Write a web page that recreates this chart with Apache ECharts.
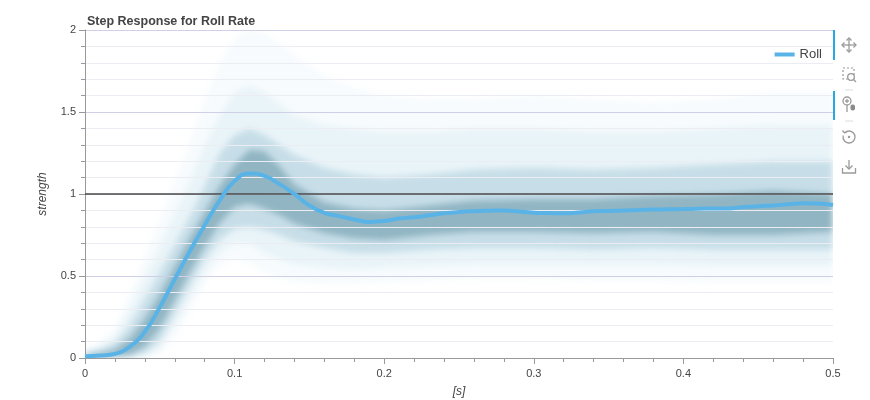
<!DOCTYPE html>
<html>
<head>
<meta charset="utf-8">
<script src="https://cdn.jsdelivr.net/npm/echarts@6/dist/echarts.min.js"></script>
<style>
  html, body { margin: 0; padding: 0; background: #fff; overflow: hidden; }
  #wrap { position: relative; width: 870px; height: 400px; }
  #bandsClip { position: absolute; left: 85px; top: 30px; width: 748px; height: 328px; overflow: hidden; }
  #bands { position: absolute; left: -85px; top: -30px; width: 870px; height: 400px; filter: blur(3px); }
  #chart { position: absolute; left: 0; top: 0; width: 870px; height: 400px; }
</style>
</head>
<body>
<div id="wrap">
  <div id="bandsClip"><div id="bands"></div></div>
  <div id="chart"></div>
</div>
<script>
// Roll step response (mean line), sampled every 0.01 s
const time = [0, 0.01, 0.02, 0.03, 0.04, 0.05, 0.06, 0.07, 0.08, 0.09,
  0.10, 0.11, 0.12, 0.13, 0.14, 0.15, 0.16, 0.17, 0.18, 0.19,
  0.20, 0.21, 0.22, 0.23, 0.24, 0.25, 0.26, 0.27, 0.28, 0.29,
  0.30, 0.31, 0.32, 0.33, 0.34, 0.35, 0.36, 0.37, 0.38, 0.39,
  0.40, 0.41, 0.42, 0.43, 0.44, 0.45, 0.46, 0.47, 0.48, 0.49, 0.50];
const roll = [0.01, 0.015, 0.025, 0.07, 0.16, 0.31, 0.48, 0.65, 0.81, 0.96,
  1.08, 1.125, 1.11, 1.06, 1.0, 0.93, 0.885, 0.865, 0.845, 0.83,
  0.835, 0.85, 0.858, 0.87, 0.882, 0.89, 0.895, 0.898, 0.9, 0.893,
  0.886, 0.884, 0.882, 0.887, 0.895, 0.897, 0.9, 0.902, 0.905, 0.907,
  0.908, 0.91, 0.912, 0.912, 0.92, 0.926, 0.93, 0.937, 0.943, 0.942, 0.933];

// density of the individual responses, read as nested envelopes
const bandTime = [0, 0.01, 0.02, 0.03, 0.04, 0.05, 0.06, 0.07, 0.08, 0.09, 0.10, 0.11, 0.12,
  0.13, 0.14, 0.16, 0.18, 0.20, 0.23, 0.26, 0.30, 0.34, 0.38, 0.42, 0.46, 0.50];
const hazeLow = [0, 0, 0, 0, 0, 0.02, 0.12, 0.28, 0.45, 0.56, 0.60, 0.58, 0.52,
  0.48, 0.46, 0.45, 0.45, 0.46, 0.47, 0.48, 0.48, 0.47, 0.47, 0.46, 0.46, 0.46];
const hazeHigh = [0.06, 0.10, 0.18, 0.40, 0.62, 0.85, 1.08, 1.32, 1.58, 1.80, 1.95, 2.0, 1.98,
  1.92, 1.85, 1.72, 1.65, 1.60, 1.58, 1.58, 1.60, 1.58, 1.56, 1.58, 1.62, 1.62];
const faintLow = [0, 0, 0, 0, 0.01, 0.06, 0.20, 0.36, 0.52, 0.64, 0.70, 0.70, 0.64,
  0.60, 0.57, 0.55, 0.54, 0.55, 0.56, 0.57, 0.57, 0.57, 0.57, 0.56, 0.56, 0.56];
const faintHigh = [0.04, 0.07, 0.13, 0.30, 0.49, 0.68, 0.88, 1.08, 1.30, 1.48, 1.62, 1.66, 1.62,
  1.55, 1.48, 1.42, 1.40, 1.38, 1.38, 1.40, 1.40, 1.38, 1.38, 1.40, 1.42, 1.42];
const midLow = [0, 0, 0, 0.005, 0.03, 0.10, 0.27, 0.44, 0.60, 0.72, 0.79, 0.80, 0.78,
  0.75, 0.71, 0.67, 0.64, 0.64, 0.66, 0.67, 0.67, 0.66, 0.67, 0.66, 0.66, 0.66];
const midHigh = [0.03, 0.05, 0.09, 0.20, 0.36, 0.52, 0.69, 0.86, 1.05, 1.25, 1.36, 1.40, 1.36,
  1.30, 1.24, 1.16, 1.12, 1.10, 1.12, 1.15, 1.16, 1.15, 1.16, 1.18, 1.20, 1.20];
const coreLow = [0, 0.003, 0.01, 0.02, 0.07, 0.18, 0.35, 0.52, 0.68, 0.82, 0.92, 0.94, 0.91,
  0.87, 0.82, 0.76, 0.73, 0.72, 0.75, 0.77, 0.77, 0.76, 0.77, 0.75, 0.75, 0.77];
const coreHigh = [0.02, 0.03, 0.05, 0.12, 0.24, 0.39, 0.56, 0.73, 0.89, 1.05, 1.18, 1.27, 1.26,
  1.17, 1.06, 0.95, 0.91, 0.90, 0.93, 0.96, 0.97, 0.97, 0.99, 1.00, 1.02, 1.00];

const gridBox = { left: 85, right: 37, top: 30, bottom: 42, outerBoundsMode: "none" };
const grey = "#999";
const font = "'Liberation Sans', Arial, sans-serif";

function band(name, lower, upper, color) {
  return {
    name: name,
    type: "custom",
    silent: true,
    clip: true,
    data: [[0, 0]],
    renderItem: (params, api) => {
      const top = bandTime.map((t, i) => api.coord([t, upper[i]]));
      const bottom = bandTime.map((t, i) => api.coord([t, lower[i]])).reverse();
      return {
        type: "polygon",
        shape: { points: top.concat(bottom) },
        style: { fill: color }
      };
    }
  };
}

// soft density layer underneath (blurred with css)
const bandChart = echarts.init(document.getElementById("bands"));
bandChart.setOption({
  animation: false,
  grid: gridBox,
  xAxis: { type: "value", min: 0, max: 0.5, show: false },
  yAxis: { type: "value", min: 0, max: 2, show: false },
  series: [
    band("haze", hazeLow, hazeHigh, "rgba(170,210,228,0.09)"),
    band("faint", faintLow, faintHigh, "rgba(150,196,216,0.14)"),
    band("mid", midLow, midHigh, "rgba(110,165,190,0.28)"),
    band("core", coreLow, coreHigh, "rgba(80,130,150,0.45)")
  ]
});

// toolbar on the right, drawn as plain shapes
const iconStyle = { stroke: "#9a9a9a", lineWidth: 1.3, fill: null };
const toolbar = [
  { type: "rect", shape: { x: 833, y: 30, width: 2, height: 30 }, style: { fill: "#26aae1" } },
  { type: "rect", shape: { x: 833, y: 91, width: 2, height: 29 }, style: { fill: "#26aae1" } },
  // pan
  { type: "line", shape: { x1: 842, y1: 45, x2: 856, y2: 45 }, style: iconStyle },
  { type: "line", shape: { x1: 849, y1: 38, x2: 849, y2: 52 }, style: iconStyle },
  { type: "polyline", shape: { points: [[844.5, 42.5], [842, 45], [844.5, 47.5]] }, style: iconStyle },
  { type: "polyline", shape: { points: [[853.5, 42.5], [856, 45], [853.5, 47.5]] }, style: iconStyle },
  { type: "polyline", shape: { points: [[846.5, 40.5], [849, 38], [851.5, 40.5]] }, style: iconStyle },
  { type: "polyline", shape: { points: [[846.5, 49.5], [849, 52], [851.5, 49.5]] }, style: iconStyle },
  // box zoom
  { type: "rect", shape: { x: 843, y: 68, width: 11, height: 11 }, style: { stroke: "#9a9a9a", lineWidth: 1.2, fill: null, lineDash: [2, 2] } },
  { type: "circle", shape: { cx: 851, cy: 77, r: 3.3 }, style: { stroke: "#9a9a9a", lineWidth: 1.3, fill: "#fff" } },
  { type: "line", shape: { x1: 853.5, y1: 79.5, x2: 856, y2: 82 }, style: iconStyle },
  { type: "line", shape: { x1: 845, y1: 90, x2: 853, y2: 90 }, style: { stroke: "#ddd", lineWidth: 1 } },
  // wheel zoom
  { type: "circle", shape: { cx: 847, cy: 101, r: 4 }, style: iconStyle },
  { type: "line", shape: { x1: 845, y1: 101, x2: 849, y2: 101 }, style: iconStyle },
  { type: "line", shape: { x1: 847, y1: 99, x2: 847, y2: 103 }, style: iconStyle },
  { type: "line", shape: { x1: 847, y1: 105, x2: 847, y2: 112 }, style: iconStyle },
  { type: "rect", shape: { x: 850.5, y: 104.5, width: 4.5, height: 6, r: 2 }, style: { fill: "#8a8a8a" } },
  { type: "line", shape: { x1: 845, y1: 121, x2: 853, y2: 121 }, style: { stroke: "#ddd", lineWidth: 1 } },
  // reset
  { type: "arc", shape: { cx: 849, cy: 137, r: 6, startAngle: -2.3, endAngle: 3.4, clockwise: true }, style: iconStyle },
  { type: "polyline", shape: { points: [[842.5, 130.5], [844.5, 133], [847.5, 131.5]] }, style: iconStyle },
  { type: "circle", shape: { cx: 849, cy: 137, r: 1.2 }, style: { fill: "#9a9a9a" } },
  // save
  { type: "line", shape: { x1: 849, y1: 160, x2: 849, y2: 169 }, style: iconStyle },
  { type: "polyline", shape: { points: [[845.5, 165.5], [849, 169], [852.5, 165.5]] }, style: iconStyle },
  { type: "polyline", shape: { points: [[842.5, 168], [842.5, 173], [855.5, 173], [855.5, 168]] }, style: iconStyle }
];

const chart = echarts.init(document.getElementById("chart"));
const option = {
  animation: false,
  backgroundColor: "transparent",
  textStyle: { fontFamily: font },
  title: {
    text: "Step Response for Roll Rate",
    left: 82,
    top: 10,
    textStyle: { fontSize: 12.5, fontWeight: "bold", color: "#444", fontFamily: font }
  },
  legend: {
    data: [{ name: "Roll", icon: "rect" }],
    right: 43,
    top: 43,
    itemWidth: 20,
    itemHeight: 4,
    itemGap: 4,
    textStyle: { fontSize: 13, color: "#444", fontFamily: font }
  },
  grid: gridBox,
  xAxis: {
    type: "value",
    min: 0,
    max: 0.5,
    interval: 0.1,
    name: "[s]",
    nameLocation: "middle",
    nameGap: 28,
    nameTextStyle: { fontStyle: "italic", fontSize: 12, color: "#444" },
    axisLine: { onZero: false, lineStyle: { color: grey } },
    axisTick: { show: true, length: 6, lineStyle: { color: grey } },
    minorTick: { show: true, splitNumber: 5, length: 4, lineStyle: { color: grey } },
    splitLine: { show: false },
    axisLabel: { color: "#444", fontSize: 11, margin: 10 }
  },
  yAxis: {
    type: "value",
    min: 0,
    max: 2,
    interval: 0.5,
    name: "strength",
    nameLocation: "middle",
    nameGap: 36,
    nameTextStyle: { fontStyle: "italic", fontSize: 12, color: "#444" },
    axisLine: { show: true, lineStyle: { color: grey } },
    axisTick: { show: true, length: 6, lineStyle: { color: grey } },
    minorTick: { show: true, splitNumber: 5, length: 4, lineStyle: { color: grey } },
    splitLine: { lineStyle: { color: "#cfcfe6" } },
    minorSplitLine: { show: true, lineStyle: { color: "#ececf3" } },
    axisLabel: { color: "#444", fontSize: 11, margin: 9 }
  },
  graphic: toolbar,
  series: [
    {
      name: "Roll",
      type: "line",
      data: time.map((t, i) => [t, roll[i]]),
      smooth: true,
      showSymbol: false,
      z: 5,
      color: "#5ab3e6",
      lineStyle: { width: 4, color: "#5ab3e6" },
      markLine: {
        silent: true,
        symbol: "none",
        label: { show: false },
        lineStyle: { color: "#4a4a4a", width: 1.5, type: "solid" },
        data: [{ yAxis: 1 }]
      }
    }
  ]
};

chart.setOption(option);
window.addEventListener("resize", () => { bandChart.resize(); chart.resize(); });
</script>
</body>
</html>
